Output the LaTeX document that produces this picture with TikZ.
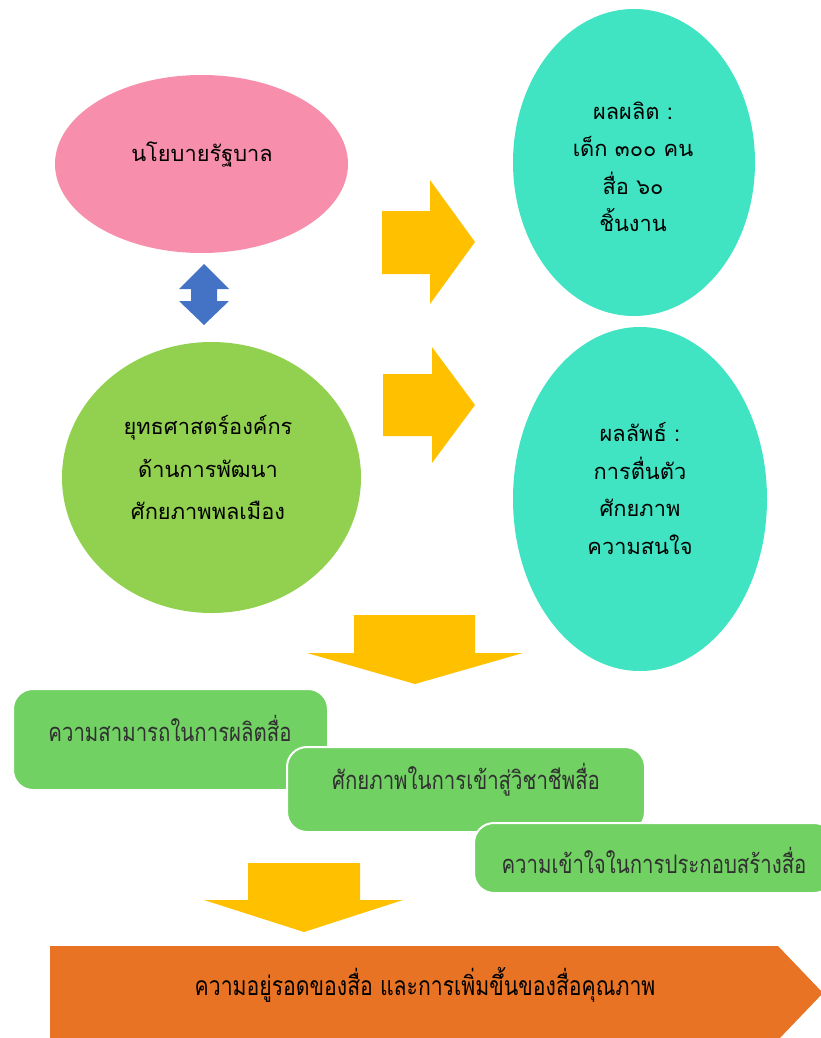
\documentclass[tikz,border=0pt]{standalone}
\usepackage{fontspec}
\newfontfamily\thai[Script=Thai]{Loma}
\newfontfamily\thaicond[Script=Thai,FakeStretch=0.8]{Loma}
\usetikzlibrary{shapes.geometric}
\definecolor{cpink}{HTML}{F78FAC}
\definecolor{cgreen}{HTML}{92D050}
\definecolor{cteal}{HTML}{40E3C2}
\definecolor{cyellow}{HTML}{FFC000}
\definecolor{cblue}{HTML}{4472C4}
\definecolor{cbox}{HTML}{71D163}
\definecolor{corange}{HTML}{E87325}
\definecolor{ctext}{HTML}{303030}
\tikzset{
  oval/.style={ellipse, inner sep=0pt, draw=none},
  ovaltext/.style={align=center, text=black, font=\thai\fontsize{21.8}{37.5}\selectfont},
  blockarrow/.style={fill=cyellow, draw=none},
  stepbox/.style={rectangle, rounded corners=20pt, fill=cbox, draw=white, line width=2pt, inner sep=0pt},
  boxtext/.style={text=ctext, font=\thaicond\fontsize{25.5}{28}\selectfont},
}
\begin{document}
\begin{tikzpicture}[x=1pt,y=-1pt]
\useasboundingbox (0,0) rectangle (821,1038);
% ovals
\node[oval, fill=cpink, minimum width=293pt, minimum height=178pt] (policy) at (201.5,164) {};
\node[ovaltext] (policyt) at (202,155) {นโยบายรัฐบาล};
\node[oval, fill=cgreen, minimum width=299pt, minimum height=271pt] (strategy) at (211.5,477.5) {};
\node[ovaltext, font=\thai\fontsize{21.8}{42.5}\selectfont] (strategyt) at (208,467.5) {ยุทธศาสตร์องค์กร\\ด้านการพัฒนา\\ศักยภาพพลเมือง};
\node[oval, fill=cteal, minimum width=242pt, minimum height=307pt] (output) at (634,162.5) {};
\node[ovaltext] (outputt) at (633,167) {ผลผลิต :\\เด็ก ๓๐๐ คน\\สื่อ ๖๐\\ชิ้นงาน};
\node[oval, fill=cteal, minimum width=254pt, minimum height=344pt] (outcome) at (640,499) {};
\node[ovaltext] (outcomet) at (640,488.5) {ผลลัพธ์ :\\การตื่นตัว\\ศักยภาพ\\ความสนใจ};
% double arrow
\fill[cblue] (204,264) -- (229,289) -- (217,289) -- (217,301) -- (229,301) -- (204,325)
  -- (179,301) -- (191,301) -- (191,289) -- (179,289) -- cycle;
% right arrows
\fill[blockarrow] (382,211) -- (430,211) -- (430,180) -- (475,242) -- (430,304) -- (430,274) -- (382,274) -- cycle;
\fill[blockarrow] (383,374) -- (432,374) -- (432,347) -- (475,405) -- (432,463) -- (432,436) -- (383,436) -- cycle;
% down arrow 1
\fill[blockarrow] (354,615) -- (475,615) -- (475,653) -- (523,653) -- (415,684) -- (307,653) -- (354,653) -- cycle;
% boxes
\node[stepbox, minimum width=315pt, minimum height=101pt] (box1) at (170.5,739.5) {};
\node[boxtext] (box1t) at (170,728) {ความสามารถในการผลิตสื่อ};
\node[stepbox, minimum width=358pt, minimum height=85pt] (box2) at (466,789.5) {};
\node[boxtext] (box2t) at (466,780) {ศักยภาพในการเข้าสู่วิชาชีพสื่อ};
\node[stepbox, minimum width=360pt, minimum height=70pt] (box3) at (654,858) {};
\node[boxtext] (box3t) at (654,860) {ความเข้าใจในการประกอบสร้างสื่อ};
% down arrow 2
\fill[blockarrow] (248,863) -- (360,863) -- (360,900) -- (403,900) -- (304,932) -- (204,900) -- (248,900) -- cycle;
% result pentagon
\fill[corange] (50,946) -- (778,946) -- (823,993) -- (778,1040) -- (50,1040) -- cycle;
\node[boxtext, text=black, font=\thaicond\fontsize{26.5}{28}\selectfont] (resultt) at (425,985) {ความอยู่รอดของสื่อ และการเพิ่มขึ้นของสื่อคุณภาพ};
\end{tikzpicture}
\end{document}
